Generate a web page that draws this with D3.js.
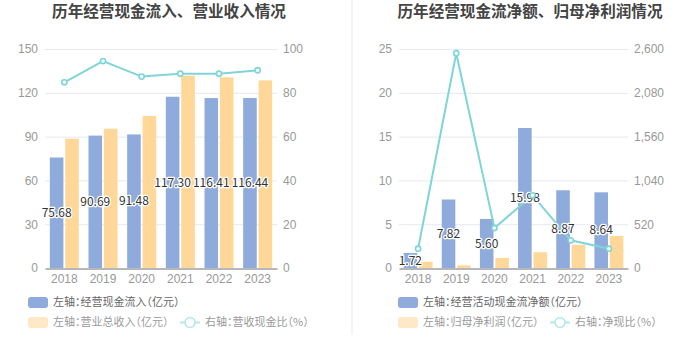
<!DOCTYPE html>
<html><head><meta charset="utf-8">
<script src="https://cdn.jsdelivr.net/npm/d3@7"></script>
<style>
html,body{margin:0;padding:0;background:#fff;}
svg{display:block;font-family:"Noto Sans CJK SC","Noto Sans",sans-serif;}
.lg text{font-feature-settings:"halt";}
</style></head>
<body><svg id="c" width="700" height="360"></svg>
<script>
const years = ["2018","2019","2020","2021","2022","2023"];
// Left chart
const cashInflow = [75.68, 90.69, 91.48, 117.30, 116.41, 116.44];
const revenue = [88.6, 95.4, 104.1, 131.7, 130.6, 128.5];
const cashRevRatio = [84.8, 94.5, 87.4, 88.7, 88.7, 90.3];
const leftTicksA = [0, 30, 60, 90, 120, 150];
const rightTicksA = [0, 20, 40, 60, 80, 100];
// Right chart
const netCashFlow = [1.72, 7.82, 5.60, 15.98, 8.87, 8.64];
const netProfit = [0.7, 0.3, 1.15, 1.8, 2.65, 3.65];
const netCashRatio = [229, 2550, 475, 863, 329, 229];
const leftTicksB = [0, 5, 10, 15, 20, 25];
const rightTicksB = [0, 520, 1040, 1560, 2080, 2600];

const BLUE = "#8EABDB", ORANGE = "#FFD899", TEAL = "#7FD5D8";
const svg = d3.select("#c");

function panel(cfg) {
  const g = svg.append("g");
  const x = d3.scaleBand().domain(years).range([cfg.x0, cfg.x1]);
  const yL = d3.scaleLinear().domain([0, cfg.lt[cfg.lt.length-1]]).range([268, 49]);
  const yR = d3.scaleLinear().domain([0, cfg.rt[cfg.rt.length-1]]).range([268, 49]);
  const xs = d3.scaleBand().domain(["a","b"]).range([-14.5, 14.5]).paddingInner(0.12);

  // title
  g.append("text").attr("x", cfg.tx).attr("y", 17).attr("text-anchor","middle")
    .attr("font-size", 15.6).attr("font-weight","bold").attr("fill","#444").text(cfg.title);

  // gridlines
  g.append("g").selectAll("line").data(cfg.lt.slice(1)).join("line")
    .attr("x1", cfg.x0).attr("x2", cfg.x1).attr("y1", d=>yL(d)+0.5).attr("y2", d=>yL(d)+0.5)
    .attr("stroke","#e6e9f2").attr("stroke-width",1);

  // left axis
  const la = g.append("g").attr("transform", `translate(${cfg.x0},0)`)
    .call(d3.axisLeft(yL).tickValues(cfg.lt).tickSize(0).tickPadding(7).tickFormat(d3.format(",")));
  la.select(".domain").remove();
  la.selectAll("text").attr("fill","#999").attr("font-size",12).attr("font-family","inherit");
  // right axis
  const ra = g.append("g").attr("transform", `translate(${cfg.x1},0)`)
    .call(d3.axisRight(yR).tickValues(cfg.rt).tickSize(0).tickPadding(6).tickFormat(d3.format(",")));
  ra.select(".domain").remove();
  ra.selectAll("text").attr("fill","#999").attr("font-size",12).attr("font-family","inherit");

  // bars
  g.append("g").selectAll("rect").data(cfg.b1).join("rect")
    .attr("x",(d,i)=>x(years[i])+x.bandwidth()/2+xs("a")).attr("width",xs.bandwidth())
    .attr("y",d=>yL(d)).attr("height",d=>yL(0)-yL(d)).attr("fill",BLUE);
  g.append("g").selectAll("rect").data(cfg.b2).join("rect")
    .attr("x",(d,i)=>x(years[i])+x.bandwidth()/2+xs("b")).attr("width",xs.bandwidth())
    .attr("y",d=>yL(d)).attr("height",d=>yL(0)-yL(d)).attr("fill",ORANGE);

  // bottom axis
  const ba = g.append("g").attr("transform","translate(0,268.5)")
    .call(d3.axisBottom(x).tickSize(0).tickPadding(6));
  ba.select(".domain").attr("stroke","#6e7079");
  ba.selectAll("text").attr("fill","#999").attr("font-size",12).attr("font-family","inherit");

  // line
  const line = d3.line().x((d,i)=>x(years[i])+x.bandwidth()/2).y(d=>yR(d));
  g.append("path").datum(cfg.ln).attr("d",line).attr("fill","none")
    .attr("stroke",TEAL).attr("stroke-width",2);

  // labels
  g.append("g").selectAll("text").data(cfg.b1).join("text")
    .attr("x",(d,i)=>x(years[i])+x.bandwidth()/2+xs("a")+xs.bandwidth()/2)
    .attr("y",d=>(yL(d)+yL(0))/2).attr("dy","0.35em").attr("text-anchor","middle")
    .attr("font-size",12).attr("fill","#333").attr("stroke","#fff").attr("stroke-width",2.5)
    .attr("paint-order","stroke").attr("stroke-linejoin","round")
    .text(d=>d.toFixed(2));

  g.append("g").selectAll("circle").data(cfg.ln).join("circle")
    .attr("cx",(d,i)=>x(years[i])+x.bandwidth()/2).attr("cy",d=>yR(d)).attr("r",2.6)
    .attr("fill","#fff").attr("stroke",TEAL).attr("stroke-width",1.6);

  // legend
  const lg = g.append("g").attr("class","lg").attr("font-size",11);
  lg.append("rect").attr("x",cfg.lx).attr("y",297).attr("width",20).attr("height",11).attr("rx",3).attr("fill",BLUE);
  lg.append("text").attr("x",cfg.lx+25).attr("y",302.5).attr("dy","0.35em").attr("fill","#666").text(cfg.l1);
  lg.append("rect").attr("x",cfg.lx).attr("y",317).attr("width",20).attr("height",11).attr("rx",3).attr("fill","#FFE8C6");
  lg.append("text").attr("x",cfg.lx+25).attr("y",322.5).attr("dy","0.35em").attr("fill","#9a9a9a").text(cfg.l2);
  lg.append("line").attr("x1",cfg.llx).attr("x2",cfg.llx+20).attr("y1",322.5).attr("y2",322.5).attr("stroke","#B4E8EA").attr("stroke-width",2);
  lg.append("circle").attr("cx",cfg.llx+10).attr("cy",322.5).attr("r",5).attr("fill","#fff").attr("stroke","#B4E8EA").attr("stroke-width",1.6);
  lg.append("text").attr("x",cfg.llx+25).attr("y",322.5).attr("dy","0.35em").attr("fill","#9a9a9a").text(cfg.l3);
}

panel({x0:45, x1:277, tx:169, title:"历年经营现金流入、营业收入情况",
  lt:leftTicksA, rt:rightTicksA, b1:cashInflow, b2:revenue, ln:cashRevRatio,
  lx:28, llx:180, l1:"左轴：经营现金流入（亿元）", l2:"左轴：营业总收入（亿元）", l3:"右轴：营收现金比（%）"});
panel({x0:399, x1:628, tx:530, title:"历年经营现金流净额、归母净利润情况",
  lt:leftTicksB, rt:rightTicksB, b1:netCashFlow, b2:netProfit, ln:netCashRatio,
  lx:398, llx:550, l1:"左轴：经营活动现金流净额（亿元）", l2:"左轴：归母净利润（亿元）", l3:"右轴：净现比（%）"});

svg.append("rect").attr("x",351).attr("y",0).attr("width",2).attr("height",335).attr("fill","#f3f3f3");
</script></body></html>
